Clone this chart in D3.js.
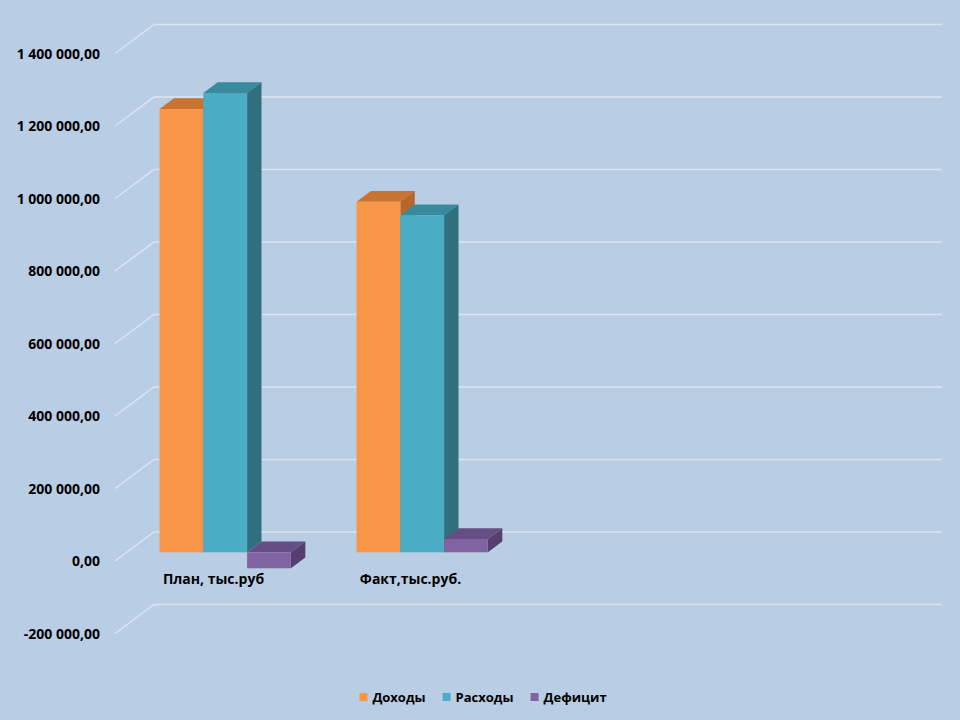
<!DOCTYPE html>
<html>
<head>
<meta charset="utf-8">
<script src="https://cdn.jsdelivr.net/npm/d3@7"></script>
<style>
  body { margin: 0; background: #b9cde5; }
  text { font-family: "Open Sans", sans-serif; font-weight: 700; fill: #000; }
</style>
</head>
<body>
<div id="d3-container"></div>
<script>
/* DATA */
const categories = ["План, тыс.руб", "Факт,тыс.руб.", "", ""];
const seriesNames = ["Доходы", "Расходы", "Дефицит"];
const incomeValues = [1223000, 967000, null, null];
const expenseValues = [1267000, 930000, null, null];
const deficitValues = [-44000, 37000, null, null];
const tickValues = [-200000, 0, 200000, 400000, 600000, 800000, 1000000, 1200000, 1400000];

/* CONSTANTS AND GLOBALS */
const width = 960,
  height = 720,
  depth = { dx: 39, dy: -29 },      // full depth of the box
  barDepth = [0.3, 0.67];            // where the bars sit inside the box

const colors = {
  "Доходы": { front: "#f79646", top: "#c8732f", side: "#b8662a" },
  "Расходы": { front: "#4bacc6", top: "#3a8a9e", side: "#306f7d" },
  "Дефицит": { front: "#8064a2", top: "#654e83", side: "#553f70" }
};

let svg, xScale, innerScale, yScale;

const ru = d3.formatLocale({ decimal: ",", thousands: " ", grouping: [3], currency: ["", ""], minus: "-" });
const fmt = ru.format(",.2f");

// shift a front-plane point back into the box
const proj = (x, y, f) => [x + f * depth.dx, y + f * depth.dy];

init();

function init() {
  xScale = d3.scaleBand()
    .domain(categories.map((d, i) => i))
    .range([115, 903]);

  innerScale = d3.scaleBand()
    .domain(seriesNames)
    .range([0, xScale.bandwidth()])
    .paddingOuter(0.75);

  yScale = d3.scaleLinear()
    .domain([-200000, 1400000])
    .range([633.5, 53.5]);

  svg = d3.select("#d3-container")
    .append("svg")
    .attr("width", width)
    .attr("height", height);

  svg.append("rect")
    .attr("width", width)
    .attr("height", height)
    .attr("fill", "#b9cde5");

  // GRIDLINES (side wall diagonal + back wall)
  const xL = xScale.range()[0], xR = xScale.range()[1];
  const grid = svg.append("g").attr("class", "grid");
  tickValues.forEach(t => {
    const y = yScale(t);
    const a = proj(xL, y, 0), b = proj(xL, y, 1), c = proj(xR, y, 1);
    grid.append("path")
      .attr("d", `M${a[0]},${a[1]}L${b[0]},${b[1]}L${c[0]},${c[1]}`)
      .attr("fill", "none")
      .attr("stroke", "#dbe5f1")
      .attr("stroke-width", 1.5);
  });

  // Y AXIS LABELS
  svg.append("g")
    .selectAll("text")
    .data(tickValues)
    .join("text")
    .attr("x", 100)
    .attr("y", d => yScale(d) + 5)
    .attr("text-anchor", "end")
    .style("font-size", "14px")
    .text(d => fmt(d));

  // CATEGORY LABELS
  svg.append("g")
    .selectAll("text")
    .data(categories)
    .join("text")
    .attr("x", (d, i) => xScale(i) + xScale.bandwidth() / 2)
    .attr("y", 584)
    .attr("text-anchor", "middle")
    .style("font-size", "14px")
    .text(d => d);

  draw();
  legend();
}

function draw() {
  const rows = [];
  categories.forEach((c, i) => {
    [incomeValues, expenseValues, deficitValues].forEach((vals, s) => {
      if (vals[i] != null) rows.push({ cat: i, series: seriesNames[s], value: vals[i] });
    });
  });

  const bars = svg.append("g").attr("class", "bars");
  const [f0, f1] = barDepth;

  rows.forEach(d => {
    const x0 = xScale(d.cat) + innerScale(d.series);
    const x1 = x0 + innerScale.bandwidth();
    const yTop = Math.min(yScale(0), yScale(d.value));
    const yBot = Math.max(yScale(0), yScale(d.value));
    const col = colors[d.series];
    const poly = pts => pts.map(p => p.join(",")).join(" ");

    const g = bars.append("g");
    g.append("polygon")
      .attr("points", poly([proj(x0, yTop, f0), proj(x1, yTop, f0), proj(x1, yTop, f1), proj(x0, yTop, f1)]))
      .attr("fill", col.top);
    g.append("polygon")
      .attr("points", poly([proj(x1, yTop, f0), proj(x1, yBot, f0), proj(x1, yBot, f1), proj(x1, yTop, f1)]))
      .attr("fill", col.side);
    const p = proj(x0, yTop, f0);
    g.append("rect")
      .attr("x", p[0])
      .attr("y", p[1])
      .attr("width", x1 - x0)
      .attr("height", yBot - yTop)
      .attr("fill", col.front);
  });
}

function legend() {
  const lg = svg.append("g").attr("class", "legend");
  const items = lg.selectAll("g")
    .data(seriesNames)
    .join("g");

  items.append("rect")
    .attr("width", 8)
    .attr("height", 8)
    .attr("y", 693)
    .attr("fill", d => colors[d].front);

  items.append("text")
    .attr("x", 13)
    .attr("y", 702)
    .style("font-size", "13px")
    .text(d => d);

  // lay items out side by side, centred
  let x = 0;
  const widths = [];
  items.each(function () {
    const w = 13 + d3.select(this).select("text").node().getComputedTextLength();
    widths.push(w);
  });
  const gap = 17;
  const total = d3.sum(widths) + gap * (widths.length - 1);
  x = 483 - total / 2;
  items.attr("transform", (d, i) => {
    const tx = x;
    x += widths[i] + gap;
    return `translate(${tx},0)`;
  });
}
</script>
</body>
</html>
